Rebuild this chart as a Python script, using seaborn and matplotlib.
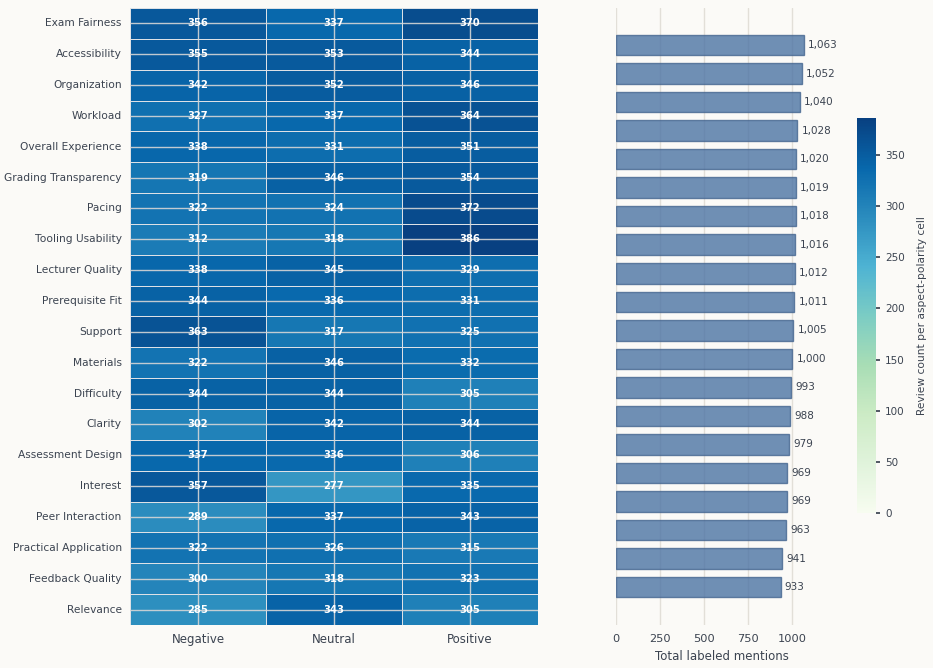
import numpy as np
import pandas as pd
import seaborn as sns
import matplotlib.pyplot as plt

aspects = [
    "Exam Fairness", "Accessibility", "Organization", "Workload",
    "Overall Experience", "Grading Transparency", "Pacing", "Tooling Usability",
    "Lecturer Quality", "Prerequisite Fit", "Support", "Materials",
    "Difficulty", "Clarity", "Assessment Design", "Interest",
    "Peer Interaction", "Practical Application", "Feedback Quality", "Relevance",
]
polarities = ["Negative", "Neutral", "Positive"]
negative = [356, 355, 342, 327, 338, 319, 322, 312, 338, 344,
            363, 322, 344, 302, 337, 357, 289, 322, 300, 285]
neutral = [337, 353, 352, 337, 331, 346, 324, 318, 345, 336,
           317, 346, 344, 342, 336, 277, 337, 326, 318, 343]
positive = [370, 344, 346, 364, 351, 354, 372, 386, 329, 331,
            325, 332, 305, 344, 306, 335, 343, 315, 323, 305]

BG = "#fbfaf7"
TXT = "#3b4350"

counts = pd.DataFrame(
    {"Negative": negative, "Neutral": neutral, "Positive": positive},
    index=aspects,
)
totals = counts.sum(axis=1)

sns.set_theme(style="whitegrid")
plt.rcParams.update({
    "figure.facecolor": BG,
    "axes.facecolor": BG,
    "text.color": TXT,
    "axes.labelcolor": TXT,
    "xtick.color": TXT,
    "ytick.color": TXT,
    "grid.color": "#e2dfd8",
})
plt.rcParams["font.family"] = ["DejaVu Sans"]

fig = plt.figure(figsize=(9.33, 6.68), dpi=100)
ax_hm = fig.add_axes([0.1393, 0.0644, 0.4373, 0.9237])
ax_bar = fig.add_axes([0.6602, 0.0644, 0.227, 0.9237])
cax = fig.add_axes([0.9185, 0.232, 0.0204, 0.591])

sns.heatmap(
    counts,
    ax=ax_hm,
    cmap="GnBu",
    vmin=0,
    vmax=counts.values.max(),
    annot=True,
    fmt="d",
    annot_kws={"color": "white", "fontsize": 7.2, "fontweight": "bold"},
    linewidths=0.6,
    linecolor="#dde1e6",
    cbar_ax=cax,
    cbar_kws={"label": "Review count per aspect-polarity cell"},
)
ax_hm.set_axisbelow(False)
ax_hm.grid(True, color="#d6d6d6", linewidth=1, alpha=0.9)
ax_hm.tick_params(axis="y", length=0, labelsize=7.7, pad=6)
ax_hm.tick_params(axis="x", length=0, labelsize=8.5, pad=6)
ax_hm.set_xlabel("")
ax_hm.set_ylabel("")
ax_hm.set_yticklabels(aspects, rotation=0)

cbar = ax_hm.collections[0].colorbar
cbar.outline.set_edgecolor("#dddddd")
cax.tick_params(labelsize=7.5, length=3, color=TXT)
cax.yaxis.label.set_size(7.7)
cax.yaxis.labelpad = 9

bar_df = pd.DataFrame({"aspect": aspects, "total": totals.values})
sns.barplot(
    data=bar_df, y="aspect", x="total", ax=ax_bar, orient="h",
    color="#4c74a4", saturation=1, alpha=0.8, edgecolor="#44658f",
    linewidth=1, width=0.72,
)
ax_bar.set_ylim(20.33, -1.3)
ax_bar.set_xlim(0, 1200)
ax_bar.set_xticks([0, 250, 500, 750, 1000])
ax_bar.grid(axis="y", visible=False)
ax_bar.set_yticks([])
ax_bar.set_ylabel("")
ax_bar.set_xlabel("Total labeled mentions", fontsize=8.5)
ax_bar.tick_params(axis="x", labelsize=8.2, length=3, color="#cccccc")
for s in ax_bar.spines.values():
    s.set_visible(False)
for c in ax_bar.containers:
    ax_bar.bar_label(c, labels=[f"{v:,.0f}" for v in c.datavalues],
                     padding=3, fontsize=7.5, color=TXT)

fig.savefig("out.png", dpi=100, facecolor=BG)
